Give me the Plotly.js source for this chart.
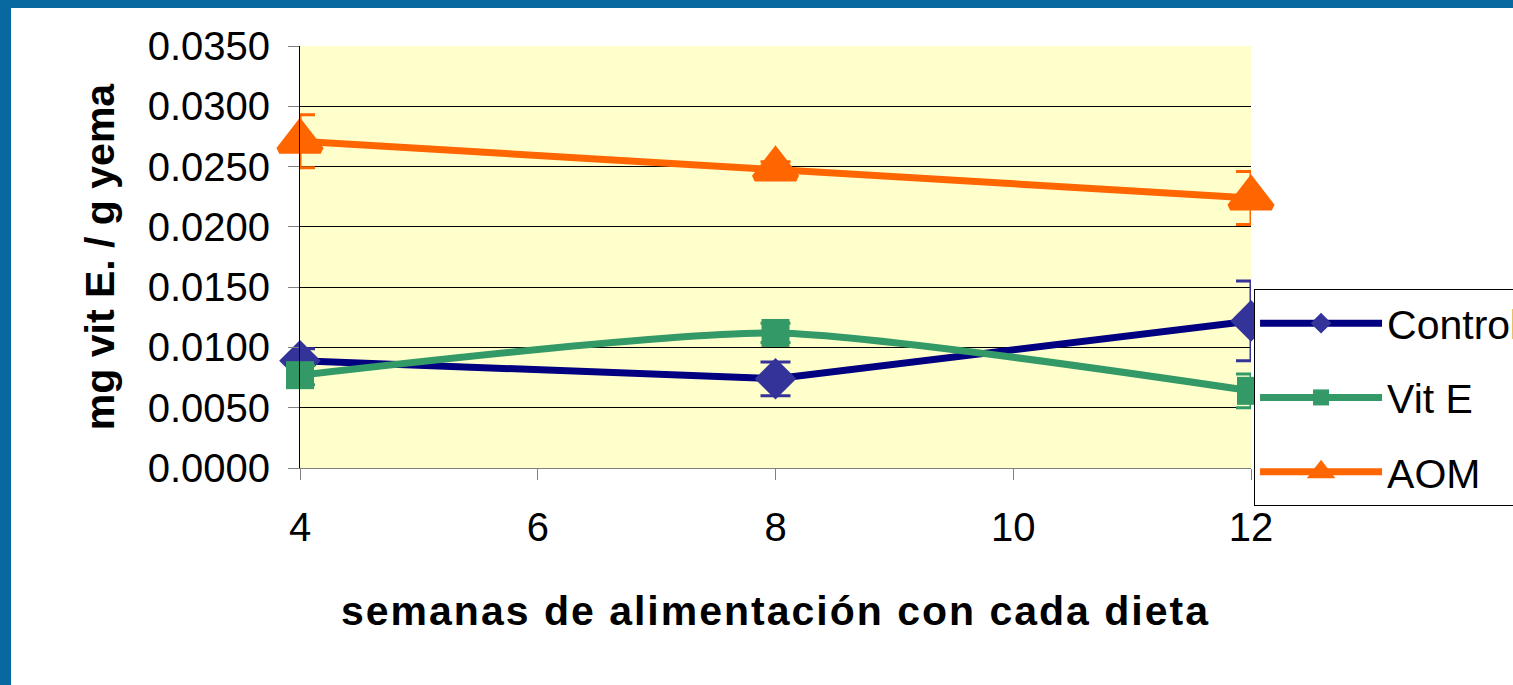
<!DOCTYPE html>
<html>
<head>
<meta charset="utf-8">
<script src="https://cdn.plot.ly/plotly-3.0.1.min.js"></script>
<style>
  html, body { margin: 0; padding: 0; background: #07699f; width: 1513px; height: 685px; overflow: hidden; }
  #chart { position: absolute; left: 11px; top: 8px; width: 1502px; height: 677px; background: #fff; overflow: hidden; }
  .xtitle { letter-spacing: 2px; }
</style>
</head>
<body>
<div id="chart"></div>
<script>
const weeks = [4, 8, 12];
const controlVals = [0.0089, 0.0074, 0.0122];
const controlErr  = [0.0010, 0.0014, 0.0033];
const vitEVals = [0.0077, 0.0112, 0.0064];
const vitEErr  = [0.0008, 0.0008, 0.0014];
const aomVals = [0.0271, 0.0248, 0.0224];
const aomErr  = [0.0022, 0.0006, 0.0022];
const seriesNames = ['Control', 'Vit E', 'AOM'];
const yTicks = [0, 0.005, 0.010, 0.015, 0.020, 0.025, 0.030, 0.035];
const xTicks = [4, 6, 8, 10, 12];

function errBar(arr, color) {
  return { type: 'data', array: arr, visible: true, color: color, thickness: 3, width: 15 };
}

const traces = [
  {
    x: weeks, y: controlVals, name: seriesNames[0], legendgroup: 'a',
    mode: 'lines+markers', type: 'scatter',
    line: { color: '#000080', width: 7 },
    marker: { symbol: 'diamond', size: 32, color: '#333399' },
    error_y: errBar(controlErr, '#333399'), cliponaxis: false
  },
  {
    x: weeks, y: vitEVals, name: seriesNames[1], legendgroup: 'b',
    mode: 'lines+markers', type: 'scatter',
    line: { color: '#339966', width: 7, shape: 'spline', smoothing: 0.6 },
    marker: { symbol: 'square', size: 28, color: '#339966' },
    error_y: errBar(vitEErr, '#339966'), cliponaxis: false
  },
  {
    x: weeks, y: aomVals, name: seriesNames[2], legendgroup: 'c',
    mode: 'lines+markers', type: 'scatter',
    line: { color: '#FF6600', width: 7 },
    marker: { symbol: 'triangle-up', size: 36, color: '#FF6600', line: { color: '#FF6600', width: 7 } },
    error_y: errBar(aomErr, '#FF6600'), cliponaxis: false
  }
];

const layout = {
  width: 1502, height: 677,
  margin: { l: 289, r: 262, t: 38, b: 217, autoexpand: false },
  paper_bgcolor: '#ffffff',
  plot_bgcolor: '#FFFFCC',
  font: { family: 'Liberation Sans, Arial, sans-serif', color: '#000', size: 40 },
  showlegend: true,
  legend: {
    x: 1.0032, xanchor: 'left', y: 0.4242, yanchor: 'top',
    bgcolor: '#ffffff', bordercolor: '#000', borderwidth: 1,
    font: { size: 41 }, itemwidth: 122, tracegroupgap: 18
  },
  xaxis: {
    range: [4, 12], tickvals: xTicks, ticktext: xTicks.map(String),
    showgrid: false, zeroline: false, showline: true, linecolor: '#808080', linewidth: 1,
    ticks: 'outside', ticklen: 11, tickcolor: '#808080', tickwidth: 1,
    ticklabelstandoff: 13,
    tickfont: { size: 40 },
    title: { text: 'semanas de alimentación con cada dieta', font: { size: 41, weight: 'bold' }, standoff: 48 }
  },
  yaxis: {
    range: [0, 0.035], tickvals: yTicks, ticktext: yTicks.map(v => v.toFixed(4)),
    showgrid: true, gridcolor: '#000', gridwidth: 1, zeroline: false,
    showline: true, linecolor: '#000', linewidth: 1,
    ticks: 'outside', ticklen: 11, tickcolor: '#808080', tickwidth: 1,
    ticklabelstandoff: 10,
    tickfont: { size: 40 },
    title: { text: 'mg vit E. / g yema', font: { size: 41, weight: 'bold' }, standoff: 20 }
  }
};

Plotly.newPlot('chart', traces, layout, { displayModeBar: false, staticPlot: true });
</script>
</body>
</html>
